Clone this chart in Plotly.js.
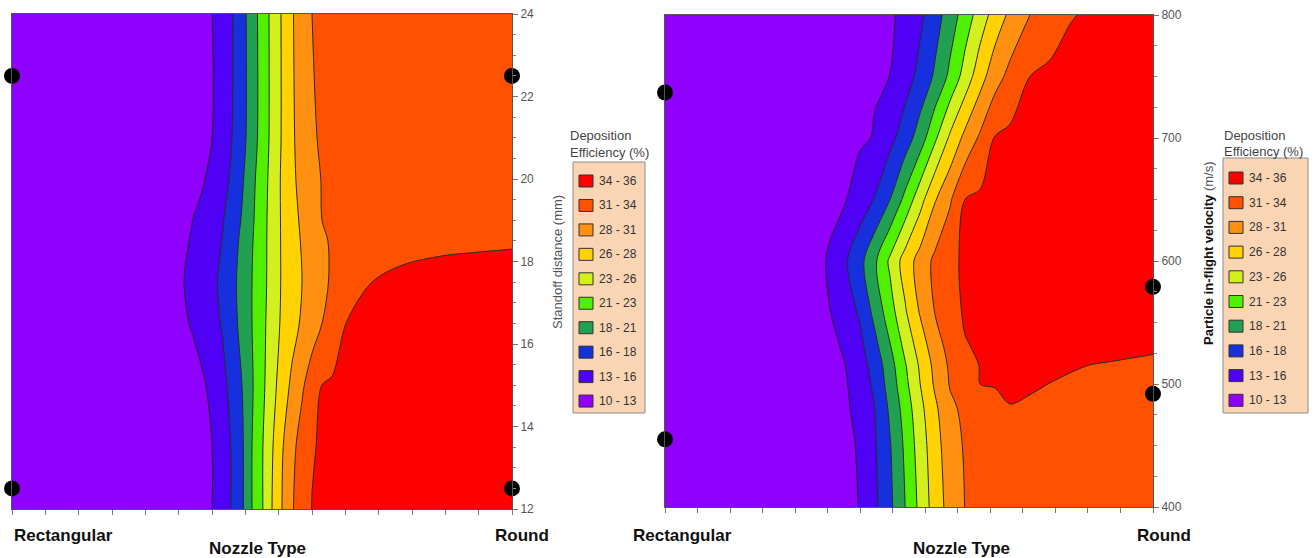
<!DOCTYPE html>
<html>
<head>
<meta charset="utf-8">
<script src="https://cdn.plot.ly/plotly-3.0.1.min.js"></script>
<style>
html,body{margin:0;padding:0;background:#fff;}
#chart{width:1315px;height:558px;}
</style>
</head>
<body>
<div id="chart"></div>
<script>
// ---------------- DATA ----------------
// Contour levels (Deposition Efficiency, %)
var levelStart = 12.6, levelEnd = 33.4, levelSize = 2.6;
var legendLabels = ['34 - 36','31 - 34','28 - 31','26 - 28','23 - 26','21 - 23','18 - 21','16 - 18','13 - 16','10 - 13'];
var nozzleTickText = ['Rectangular', 'Round'];

// Left panel: nozzle type (0 = Rectangular, 1 = Round) vs standoff distance (mm)
var leftX = [0, 0.25, 0.32, 0.36, 0.38, 0.40, 0.42, 0.44, 0.46, 0.48, 0.50, 0.52, 0.54, 0.56, 0.58, 0.60, 0.62, 0.64, 0.67, 0.72, 0.78, 0.86, 0.93, 1.0];
var leftY = [12, 13.5, 15, 16.5, 17.5, 18.5, 19, 20, 21, 24];
var leftZ = [
  [10.3, 11.72, 12.12, 12.35, 12.46, 12.58, 13.82, 15.4, 17.4, 20.4, 22.76, 25.6, 28.2, 30.56, 32.18, 33.45, 33.67, 33.90, 34.25, 34.82, 35.08, 35.23, 35.37, 35.5],
  [10.3, 11.72, 12.12, 12.35, 12.46, 12.58, 13.82, 15.4, 17.4, 20.4, 22.76, 25.34, 27.94, 30.15, 31.81, 33.26, 33.61, 33.85, 34.21, 34.81, 35.08, 35.23, 35.37, 35.5],
  [10.3, 11.6, 11.8, 12.0, 12.2, 13.22, 14.46, 15.94, 17.8, 20.16, 22.35, 24.65, 26.8, 28.72, 30.45, 32.02, 33.42, 33.62, 33.93, 34.43, 35.01, 35.19, 35.34, 35.5],
  [10.3, 11.6, 12.0, 12.71, 13.66, 14.47, 15.35, 16.88, 18.54, 20.4, 22.26, 24.2, 25.99, 27.29, 28.54, 29.67, 30.8, 32.1, 33.49, 33.94, 34.48, 34.92, 35.11, 35.3],
  [10.3, 11.5, 11.9, 13.07, 13.94, 14.68, 15.63, 17.08, 18.67, 20.4, 22.13, 24.0, 25.84, 27.02, 28.2, 29.24, 30.28, 31.09, 31.96, 33.4, 33.97, 34.57, 34.79, 35.0],
  [10.3, 11.6, 12.0, 12.71, 13.62, 14.41, 15.2, 16.73, 18.36, 20.21, 22.07, 24.0, 25.86, 27.16, 28.41, 29.45, 30.49, 31.02, 31.48, 32.25, 32.58, 32.73, 32.87, 33.0],
  [10.3, 11.88, 12.32, 12.57, 13.27, 14.11, 14.95, 16.34, 18.0, 20.0, 22.0, 24.0, 25.89, 27.33, 28.63, 29.72, 30.8, 31.06, 31.45, 32.09, 32.38, 32.53, 32.67, 32.8],
  [10.3, 11.6, 11.9, 12.1, 12.3, 13.33, 14.37, 15.57, 17.43, 19.69, 21.8, 23.87, 25.95, 27.68, 29.03, 30.21, 30.88, 31.05, 31.31, 31.73, 32.21, 32.31, 32.41, 32.5],
  [10.3, 11.73, 12.13, 12.36, 12.47, 12.59, 13.83, 15.2, 16.93, 19.1, 21.48, 23.65, 25.8, 27.8, 29.29, 30.66, 30.94, 31.11, 31.35, 31.75, 32.21, 32.31, 32.41, 32.5],
  [10.3, 11.72, 12.12, 12.35, 12.46, 12.58, 13.69, 15.06, 16.87, 19.1, 21.48, 23.65, 25.82, 27.98, 29.43, 30.8, 30.96, 31.12, 31.36, 31.75, 32.21, 32.31, 32.41, 32.5]
];
var leftPointsX = [0, 0, 1, 1];
var leftPointsY = [22.5, 12.5, 22.5, 12.5];

// Right panel: nozzle type vs particle in-flight velocity (m/s)
var rightX = [0, 0.195, 0.277, 0.307, 0.338, 0.369, 0.400, 0.430, 0.461, 0.492, 0.523, 0.553, 0.584, 0.615, 0.646, 0.676, 0.707, 0.748, 0.789, 0.830, 0.871, 0.912, 0.953, 1.0];
var rightY = [400, 450, 480, 500, 515, 530, 560, 600, 650, 700, 750, 800];
var rightZ = [
  [10.3, 11.43, 11.9, 12.08, 12.2, 12.3, 12.65, 14.68, 17.24, 20.4, 23.71, 26.81, 29.16, 30.86, 31.17, 31.48, 31.79, 32.0, 32.0, 32.0, 32.0, 32.0, 32.0, 32.0],
  [10.3, 11.44, 11.92, 12.1, 12.2, 12.3, 12.75, 14.94, 17.61, 20.87, 24.3, 27.16, 29.66, 31.06, 31.54, 32.02, 32.5, 32.47, 32.44, 32.42, 32.39, 32.36, 32.33, 32.3],
  [10.3, 11.46, 11.95, 12.14, 12.25, 12.35, 13.1, 15.2, 18.23, 21.48, 24.89, 27.68, 30.28, 31.36, 32.05, 32.75, 33.34, 33.19, 33.05, 32.9, 32.76, 32.66, 32.59, 32.5],
  [10.3, 11.48, 11.98, 12.16, 12.3, 12.4, 13.6, 15.8, 18.88, 22.29, 25.6, 28.55, 30.97, 32.23, 33.41, 33.53, 33.66, 33.56, 33.38, 33.19, 33.0, 32.88, 32.84, 32.8],
  [10.3, 11.51, 12.02, 12.21, 12.4, 12.59, 14.12, 16.2, 19.32, 22.76, 26.0, 28.89, 31.2, 32.7, 33.47, 33.6, 33.73, 33.9, 33.72, 33.54, 33.38, 33.29, 33.2, 33.1],
  [10.3, 11.53, 12.05, 12.2, 12.3, 12.75, 14.55, 17.0, 20.18, 23.65, 26.8, 29.59, 31.67, 33.29, 33.58, 33.76, 33.95, 34.2, 34.1, 34.0, 33.91, 33.81, 33.71, 33.6],
  [10.3, 11.62, 12.17, 12.38, 12.59, 13.95, 15.6, 18.67, 21.92, 25.36, 28.53, 30.92, 32.69, 33.63, 34.0, 34.38, 34.75, 34.95, 34.84, 34.74, 34.63, 34.53, 34.42, 34.3],
  [10.3, 11.5, 12.0, 12.2, 12.75, 14.85, 17.03, 19.97, 23.47, 26.71, 29.27, 31.34, 32.97, 33.7, 34.11, 34.52, 34.93, 35.21, 35.22, 35.24, 35.25, 35.27, 35.28, 35.3],
  [10.3, 11.49, 12.0, 12.19, 12.3, 12.45, 13.8, 15.36, 17.8, 21.11, 24.65, 27.98, 30.48, 33.42, 33.84, 34.28, 34.71, 35.3, 35.33, 35.37, 35.4, 35.43, 35.46, 35.5],
  [10.3, 11.35, 11.79, 11.96, 12.05, 12.15, 12.3, 12.72, 14.44, 16.42, 19.1, 22.53, 26.03, 28.92, 31.23, 33.54, 33.94, 34.49, 35.03, 35.32, 35.36, 35.41, 35.45, 35.5],
  [10.3, 11.27, 11.68, 11.83, 11.99, 12.14, 12.29, 12.45, 12.61, 14.16, 15.92, 18.17, 21.0, 24.08, 27.2, 29.73, 31.54, 33.41, 33.91, 34.43, 34.94, 35.22, 35.26, 35.3],
  [10.3, 11.24, 11.63, 11.78, 11.93, 12.08, 12.2, 12.3, 12.42, 12.95, 14.72, 16.64, 19.01, 21.61, 24.21, 26.67, 28.72, 30.81, 32.01, 33.22, 33.74, 34.14, 34.54, 35.0]
];
var rightPointsX = [0, 0, 1, 1];
var rightPointsY = [737, 455, 579, 492];

// ---------------- STYLE ----------------
var W = 1315, H = 558;
var bandColors = ['#8F00FF', '#5000F5', '#1530DC', '#22A052', '#50F000', '#D2F01E', '#FFD200', '#FF9010', '#FF5100', '#FF0000'];
var colorscale = bandColors.map(function (c, i) { return [i / (bandColors.length - 1), c]; });
function px(v) { return v / W; }
function py(v) { return 1 - v / H; }
var FONT = 'Arial, "Liberation Sans", sans-serif';

function contourTrace(x, y, z, xa, ya) {
  return {
    type: 'contour', x: x, y: y, z: z, xaxis: xa, yaxis: ya,
    autocontour: false,
    contours: { start: levelStart, end: levelEnd, size: levelSize, coloring: 'fill', showlines: true },
    colorscale: colorscale, showscale: false,
    line: { color: '#2a2a2a', width: 1, smoothing: 0.9 },
    hoverinfo: 'skip'
  };
}
function dotTrace(x, y, xa, ya) {
  return {
    type: 'scatter', mode: 'markers', x: x, y: y, xaxis: xa, yaxis: ya,
    marker: { size: 16, color: '#000' }, cliponaxis: false, showlegend: false, hoverinfo: 'skip'
  };
}

var data = [
  contourTrace(leftX, leftY, leftZ, 'x', 'y'),
  contourTrace(rightX, rightY, rightZ, 'x2', 'y2'),
  dotTrace(leftPointsX, leftPointsY, 'x', 'y'),
  dotTrace(rightPointsX, rightPointsY, 'x2', 'y2')
];

function xAxis(d0, d1, anchor) {
  return {
    domain: [px(d0), px(d1)], range: [0, 1], anchor: anchor,
    showgrid: false, zeroline: false, showticklabels: false,
    ticks: 'outside', tick0: 0, dtick: 1 / 15, ticklen: 5, tickcolor: '#777', tickwidth: 1,
    showline: true, linecolor: '#555', linewidth: 1, mirror: true, fixedrange: true
  };
}
function yAxis(t0, t1, range, dtick, minor, anchor) {
  return {
    domain: [py(t1), py(t0)], range: range, anchor: anchor, side: 'right',
    showgrid: false, zeroline: false,
    ticks: 'outside', dtick: dtick, ticklen: 5, tickcolor: '#777', tickwidth: 1,
    minor: { dtick: minor, ticks: 'outside', ticklen: 3, tickcolor: '#888' },
    tickfont: { family: FONT, size: 12, color: '#555' },
    showline: true, linecolor: '#555', linewidth: 1, mirror: true, fixedrange: true
  };
}

var annotations = [];
var shapes = [];
function ann(text, x, y, opts) {
  var a = { text: text, x: px(x), y: py(y), xref: 'paper', yref: 'paper', showarrow: false,
            xanchor: 'center', yanchor: 'middle', font: { family: FONT, size: 12, color: '#333' } };
  for (var k in opts) a[k] = opts[k];
  annotations.push(a);
}

// x "tick" labels and axis titles
var boldFont = { family: FONT, size: 17, color: '#111' };
ann('<b>' + nozzleTickText[0] + '</b>', 12, 535, { xanchor: 'left', font: boldFont });
ann('<b>' + nozzleTickText[1] + '</b>', 551, 535, { xanchor: 'right', font: boldFont });
ann('<b>Nozzle Type</b>', 257, 548, { font: boldFont });
ann('<b>' + nozzleTickText[0] + '</b>', 631, 535, { xanchor: 'left', font: boldFont });
ann('<b>' + nozzleTickText[1] + '</b>', 1193, 535, { xanchor: 'right', font: boldFont });
ann('<b>Nozzle Type</b>', 961, 548, { font: boldFont });

// y titles
ann('Standoff distance (mm)', 557, 262, { textangle: -90, font: { family: FONT, size: 13, color: '#555' } });
ann('<b>Particle in-flight velocity</b> <span style="color:#555">(m/s)</span>', 1208, 253,
    { textangle: -90, font: { family: FONT, size: 13, color: '#111' } });

// custom legends
function legend(boxX0, boxX1, boxY0, boxY1, titleX, titleY1, titleY2, swX0, swX1, cy0, step, labX) {
  shapes.push({ type: 'rect', xref: 'paper', yref: 'paper', x0: px(boxX0), x1: px(boxX1), y0: py(boxY1), y1: py(boxY0),
                fillcolor: '#FAD5B3', line: { color: '#8c8c8c', width: 1 }, layer: 'above' });
  ann('Deposition', titleX, titleY1, { xanchor: 'left', font: { family: FONT, size: 13, color: '#444' } });
  ann('Efficiency (%)', titleX, titleY2, { xanchor: 'left', font: { family: FONT, size: 13, color: '#444' } });
  for (var i = 0; i < legendLabels.length; i++) {
    var cy = cy0 + i * step;
    shapes.push({ type: 'rect', xref: 'paper', yref: 'paper', x0: px(swX0), x1: px(swX1), y0: py(cy + 6), y1: py(cy - 6),
                  fillcolor: bandColors[bandColors.length - 1 - i], line: { color: '#333', width: 1 }, layer: 'above' });
    ann(legendLabels[i], labX, cy, { xanchor: 'left', font: { family: FONT, size: 12, color: '#333' } });
  }
}
legend(573, 645, 162, 413, 568, 135, 152, 579, 593, 181, 24.45, 597);
legend(1223, 1308, 158, 413, 1222, 135, 151, 1229, 1243, 178, 24.7, 1247);

var layout = {
  width: W, height: H, autosize: false,
  margin: { l: 0, r: 0, t: 0, b: 0, pad: 0 },
  paper_bgcolor: '#fff', plot_bgcolor: '#fff',
  showlegend: false,
  font: { family: FONT },
  xaxis: xAxis(12, 512, 'y'),
  yaxis: yAxis(14, 509, [12, 24], 2, 0.5, 'x'),
  xaxis2: xAxis(665, 1153, 'y2'),
  yaxis2: yAxis(15, 507, [400, 800], 100, 25, 'x2'),
  annotations: annotations,
  shapes: shapes
};

Plotly.newPlot('chart', data, layout, { staticPlot: true, displayModeBar: false });
</script>
</body>
</html>
